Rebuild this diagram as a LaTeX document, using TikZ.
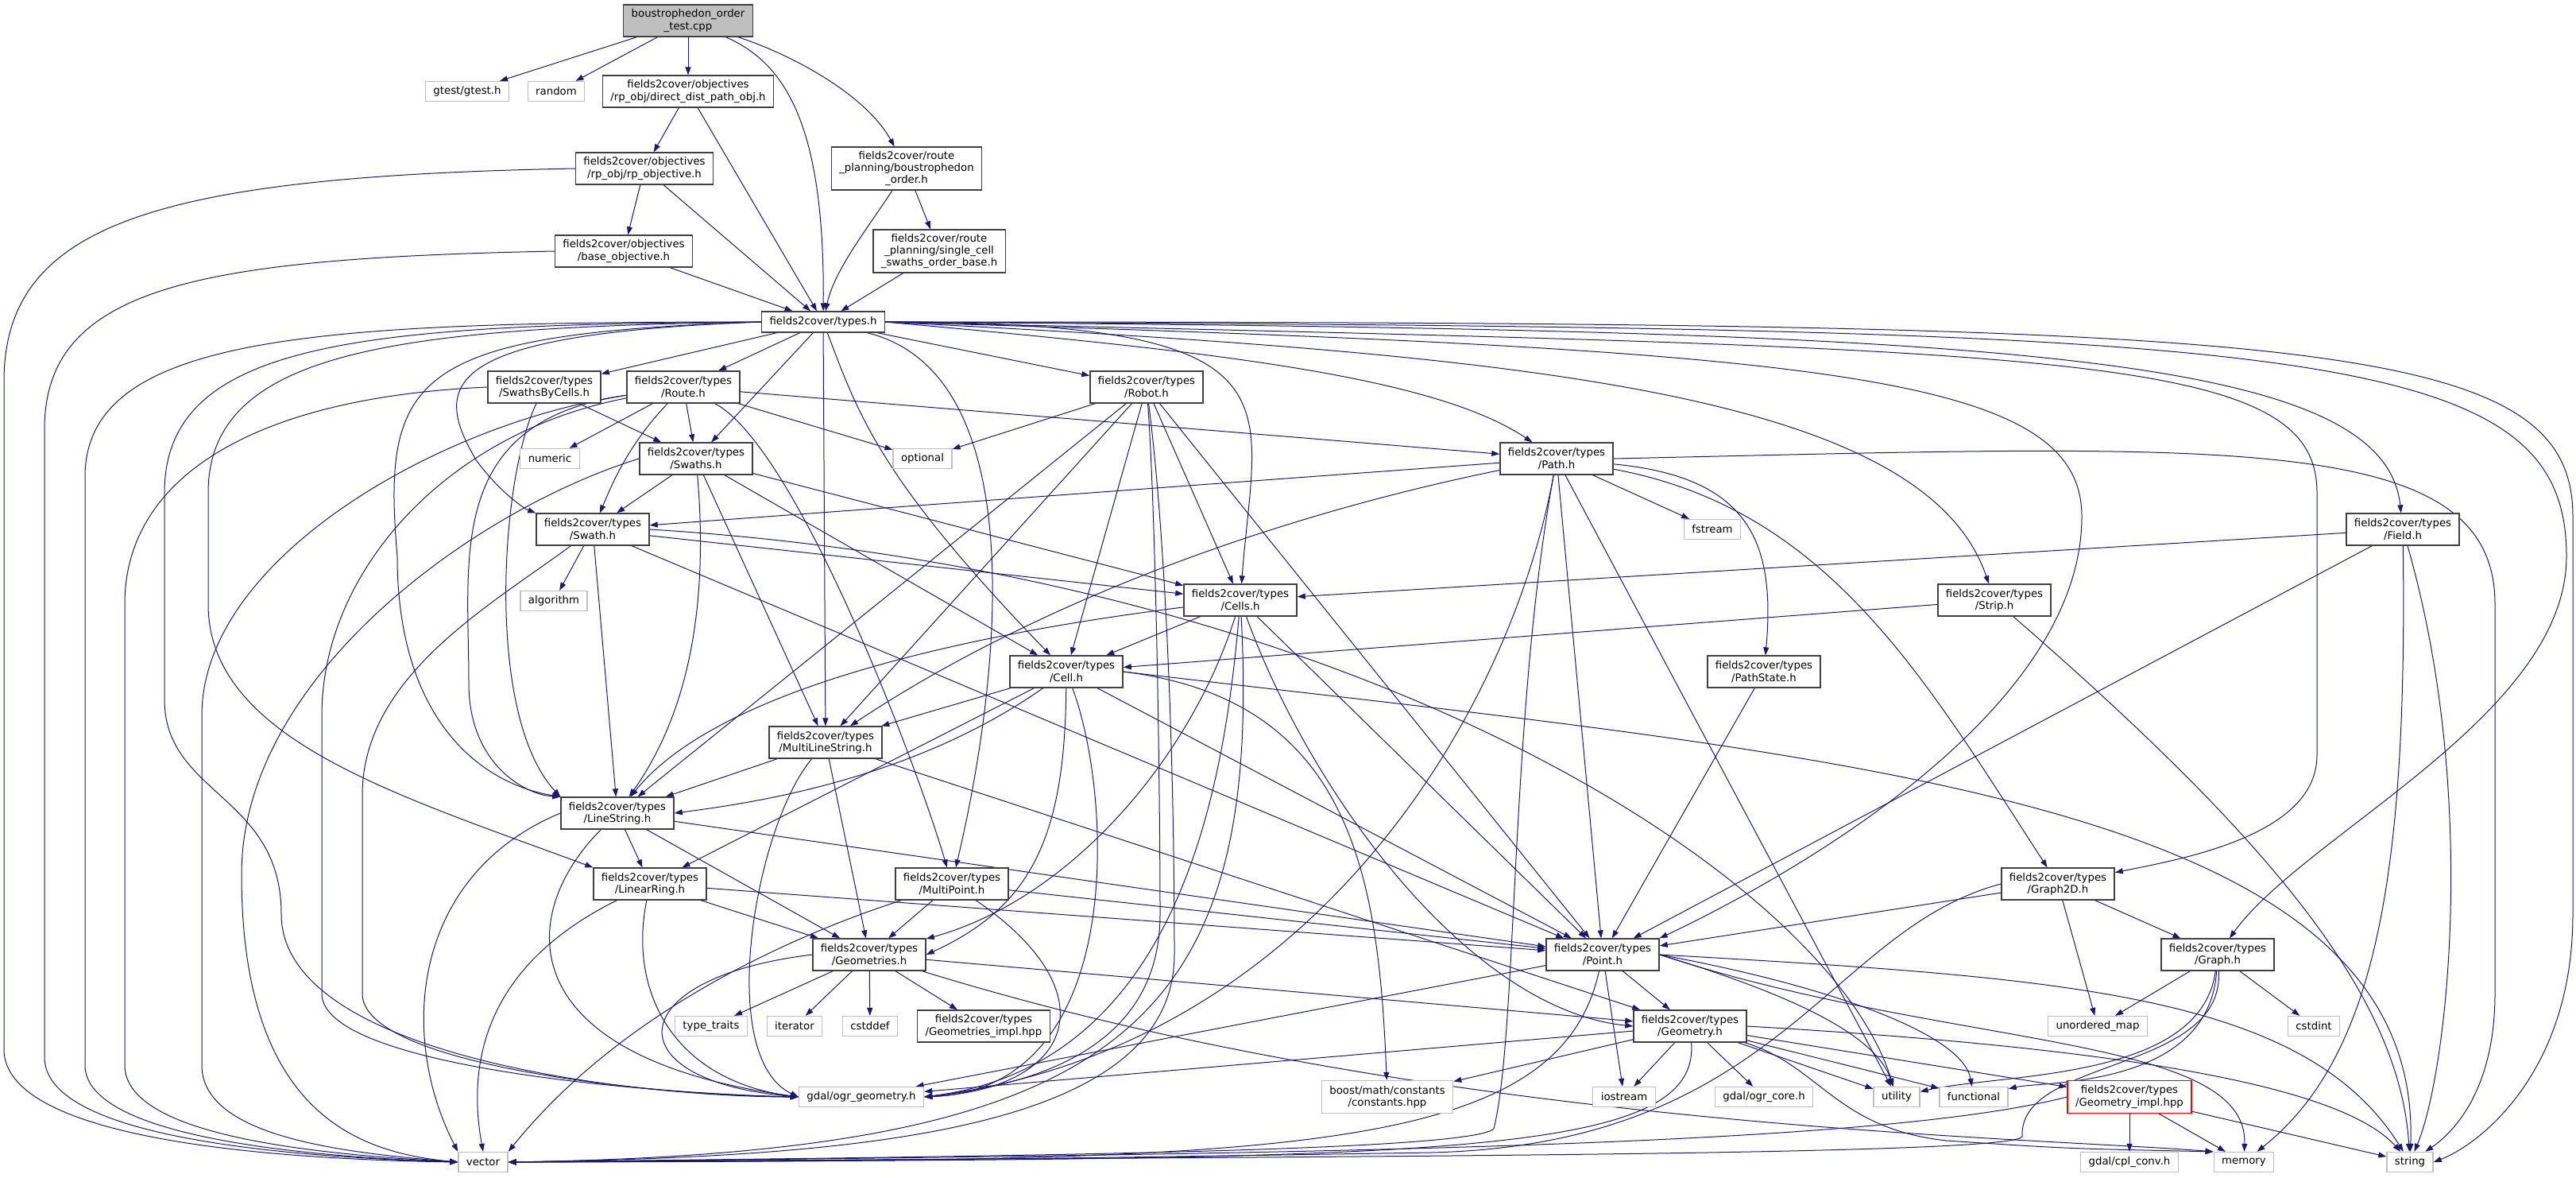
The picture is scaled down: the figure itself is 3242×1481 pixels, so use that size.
\documentclass[tikz,border=0pt]{standalone}
\usepackage{fontspec}
\setmainfont{DejaVu Sans}
\usepackage{xcolor}
\usepackage{tikz}
\usetikzlibrary{
  arrows.meta,
  backgrounds
}
\definecolor{edgeblue}{HTML}{191970}
\definecolor{rootfill}{HTML}{BFBFBF}

\begin{document}
\begin{tikzpicture}[
    x=1pt, y=-1pt,
    every node/.style={font=\fontsize{13.3}{15.2}\selectfont},
    hdr/.style={
      draw=black!75,
      line width=1.3pt,
      fill=white,
      align=center,
      inner xsep=10pt,
      inner ysep=0pt,
      minimum height=40pt
    },
    hdrthree/.style={hdr, minimum height=54pt},
    hdrone/.style={hdr, minimum height=26pt},
    sys/.style={hdr, draw=black!25, minimum height=25pt},
    root/.style={hdr, fill=rootfill},
    trunc/.style={hdr, draw=red},
    ar/.style={-{Triangle[length=10pt, width=7pt]}, draw=edgeblue, line width=1pt}
  ]
    \useasboundingbox (0,0) rectangle (3242,1481);

    % test file, objectives and route planning
    \node[root] (test) at (866,26) {boustrophedon\_order\\\_test.cpp};
    \node[sys] (gtest) at (588,115) {gtest/gtest.h};
    \node[sys] (random) at (700,115) {random};
    \node[hdr] (ddpo) at (866,115) {fields2cover/objectives\\/rp\_obj/direct\_dist\_path\_obj.h};
    \node[hdr] (rpobj) at (811,212) {fields2cover/objectives\\/rp\_obj/rp\_objective.h};
    \node[hdrthree] (bo) at (1141,212) {fields2cover/route\\\_planning/boustrophedon\\\_order.h};
    \node[hdr] (baseobj) at (785,316) {fields2cover/objectives\\/base\_objective.h};
    \node[hdrthree] (scso) at (1182,316) {fields2cover/route\\\_planning/single\_cell\\\_swaths\_order\_base.h};
    \node[hdrone] (types) at (1036,405) {fields2cover/types.h};

    % types headers
    \node[hdr] (sbc) at (685,487) {fields2cover/types\\/SwathsByCells.h};
    \node[hdr] (route) at (860,487) {fields2cover/types\\/Route.h};
    \node[hdr] (robot) at (1443,487) {fields2cover/types\\/Robot.h};
    \node[sys] (numeric) at (692,577) {numeric};
    \node[hdr] (swaths) at (876,577) {fields2cover/types\\/Swaths.h};
    \node[sys] (optional) at (1161,577) {optional};
    \node[hdr] (path) at (1959,577) {fields2cover/types\\/Path.h};
    \node[hdr] (swath) at (746,666) {fields2cover/types\\/Swath.h};
    \node[sys] (fstream) at (2155,666) {fstream};
    \node[hdr] (field) at (3024,666) {fields2cover/types\\/Field.h};
    \node[sys] (algorithm) at (697,756) {algorithm};
    \node[hdr] (cells) at (1561,755) {fields2cover/types\\/Cells.h};
    \node[hdr] (strip) at (2510,755) {fields2cover/types\\/Strip.h};
    \node[hdr] (cell) at (1342,845) {fields2cover/types\\/Cell.h};
    \node[hdr] (pathstate) at (2220,845) {fields2cover/types\\/PathState.h};
    \node[hdr] (mls) at (1039,934) {fields2cover/types\\/MultiLineString.h};
    \node[hdr] (ls) at (777,1023) {fields2cover/types\\/LineString.h};
    \node[hdr] (lr) at (818,1112) {fields2cover/types\\/LinearRing.h};
    \node[hdr] (mp) at (1198,1112) {fields2cover/types\\/MultiPoint.h};
    \node[hdr] (graph2d) at (2590,1112) {fields2cover/types\\/Graph2D.h};
    \node[hdr] (geoms) at (1094,1201) {fields2cover/types\\/Geometries.h};
    \node[hdr] (point) at (2017,1201) {fields2cover/types\\/Point.h};
    \node[hdr] (graph) at (2791,1201) {fields2cover/types\\/Graph.h};
    \node[sys] (typetraits) at (895,1291) {type\_traits};
    \node[sys] (iterator) at (1000,1291) {iterator};
    \node[sys] (cstddef) at (1095,1291) {cstddef};
    \node[hdr] (geomsimpl) at (1238,1291) {fields2cover/types\\/Geometries\_impl.hpp};
    \node[hdr] (geom) at (2127,1291) {fields2cover/types\\/Geometry.h};
    \node[sys] (unorderedmap) at (2640,1291) {unordered\_map};
    \node[sys] (cstdint) at (2912,1291) {cstdint};

    % bottom rows
    \node[sys] (ogrgeom) at (1084,1380) {gdal/ogr\_geometry.h};
    \node[sys, minimum height=41pt] (boost) at (1746,1380) {boost/math/constants\\/constants.hpp};
    \node[sys] (iostream) at (2044,1380) {iostream};
    \node[sys] (ogrcore) at (2220,1380) {gdal/ogr\_core.h};
    \node[sys] (utility) at (2387,1380) {utility};
    \node[sys] (functional) at (2484,1380) {functional};
    \node[trunc, minimum height=41pt] (geomimpl) at (2680,1380) {fields2cover/types\\/Geometry\_impl.hpp};
    \node[sys] (vector) at (608,1462) {vector};
    \node[sys] (cplconv) at (2680,1462) {gdal/cpl\_conv.h};
    \node[sys] (memory) at (2824,1462) {memory};
    \node[sys] (string) at (3033,1462) {string};

    \begin{scope}[on background layer]
    % from the test file
    \draw[ar] (test) -- (gtest);
    \draw[ar] (test) -- (random);
    \draw[ar] (test) -- (ddpo);
    \draw[ar] (test) .. controls (1000,70) and (1090,120) .. (bo);
    \draw[ar] (test) .. controls (990,80) and (1038,160) .. (types);

    % objectives and route planning
    \draw[ar] (ddpo) -- (rpobj);
    \draw[ar] (ddpo) -- (types);
    \draw[ar] (rpobj) -- (baseobj);
    \draw[ar] (rpobj) -- (types);
    \draw[ar] (rpobj.west) .. controls (200,222) and (5,280) .. (5,480) -- (5,1320) .. controls (5,1430) and (320,1458) .. (vector.west);
    \draw[ar] (baseobj) -- (types);
    \draw[ar] (baseobj.west) .. controls (250,325) and (56,360) .. (56,540) -- (56,1330) .. controls (56,1430) and (350,1455) .. (vector.west);
    \draw[ar] (bo) -- (scso);
    \draw[ar] (bo) .. controls (1090,290) and (1050,340) .. (types);
    \draw[ar] (scso) -- (types);

    % types.h
    \draw[ar] (types) -- (sbc);
    \draw[ar] (types) -- (route);
    \draw[ar] (types) -- (swaths);
    \draw[ar] (types) -- (robot);
    \draw[ar] (types) -- (mls);
    \draw[ar] (types) .. controls (1080,520) and (1105,600) .. (cell);
    \draw[ar] (types) .. controls (1300,470) and (1260,850) .. (mp);
    \draw[ar] (types.west) .. controls (560,420) and (540,480) .. (600,580) .. controls (630,620) and (660,640) .. (swath.north west);
    \draw[ar] (types.west) .. controls (520,420) and (480,470) .. (500,700) .. controls (500,900) and (600,985) .. (ls.north west);
    \draw[ar] (types.west) .. controls (500,412) and (262,440) .. (262,620) -- (262,760) .. controls (262,930) and (500,1000) .. (lr.north west);
    \draw[ar] (types.west) .. controls (450,408) and (207,430) .. (207,620) -- (207,880) .. controls (207,1000) and (354,1000) .. (354,1150) .. controls (354,1330) and (800,1380) .. (ogrgeom.west);
    \draw[ar] (types.west) .. controls (400,405) and (107,420) .. (107,600) -- (107,1340) .. controls (107,1430) and (380,1455) .. (vector.west);
    \draw[ar] (types.east) .. controls (1500,440) and (1800,470) .. (path);
    \draw[ar] (types.east) .. controls (1650,405) and (1580,500) .. (cells);
    \draw[ar] (types.east) .. controls (1900,445) and (2420,490) .. (strip);
    \draw[ar] (types.east) .. controls (2300,440) and (2620,470) .. (2620,650) .. controls (2620,880) and (2300,1080) .. (point.north east);
    \draw[ar] (types.east) .. controls (2600,440) and (2916,440) .. (2916,620) -- (2916,950) .. controls (2916,1050) and (2750,1080) .. (graph2d);
    \draw[ar] (types.east) .. controls (2500,415) and (3000,440) .. (field);
    \draw[ar] (types.east) .. controls (2900,412) and (3230,430) .. (3230,700) .. controls (3230,900) and (2900,1050) .. (graph);
    \draw[ar] (types.east) .. controls (2900,405) and (3238,420) .. (3238,650) -- (3238,1150) .. controls (3238,1350) and (3120,1440) .. (string.east);

    % SwathsByCells, Route, Swaths, Swath
    \draw[ar] (sbc) -- (swaths);
    \draw[ar] (sbc) .. controls (630,600) and (610,900) .. (ls.north west);
    \draw[ar] (sbc.west) .. controls (320,500) and (157,600) .. (157,760) -- (157,1340) .. controls (157,1430) and (400,1452) .. (vector.west);
    \draw[ar] (route) -- (numeric);
    \draw[ar] (route) -- (swaths);
    \draw[ar] (route) -- (optional);
    \draw[ar] (route) -- (path);
    \draw[ar] (route) .. controls (790,560) and (770,610) .. (swath);
    \draw[ar] (route) .. controls (1000,560) and (1150,950) .. (mp);
    \draw[ar] (route) .. controls (560,530) and (590,700) .. (590,860) .. controls (590,960) and (660,1000) .. (ls.north west);
    \draw[ar] (route) .. controls (560,530) and (254,700) .. (254,900) -- (254,1340) .. controls (254,1430) and (430,1450) .. (vector.west);
    \draw[ar] (route) .. controls (560,545) and (405,720) .. (405,900) -- (405,1250) .. controls (405,1340) and (800,1375) .. (ogrgeom.west);
    \draw[ar] (swaths) -- (swath);
    \draw[ar] (swaths) -- (cells);
    \draw[ar] (swaths) -- (cell);
    \draw[ar] (swaths) -- (mls);
    \draw[ar] (swaths) .. controls (895,800) and (850,920) .. (ls);
    \draw[ar] (swaths.west) .. controls (600,640) and (304,850) .. (304,1100) .. controls (304,1400) and (450,1450) .. (vector.west);
    \draw[ar] (swath) -- (algorithm);
    \draw[ar] (swath) -- (ls);
    \draw[ar] (swath) -- (cells);
    \draw[ar] (swath) -- (point);
    \draw[ar] (swath) .. controls (620,760) and (456,850) .. (456,1000) -- (456,1250) .. controls (456,1340) and (820,1378) .. (ogrgeom.west);
    \draw[ar] (swath.east) .. controls (1700,720) and (2300,1100) .. (utility);

    % Robot and Path
    \draw[ar] (robot) -- (optional);
    \draw[ar] (robot) -- (cells);
    \draw[ar] (robot) -- (cell);
    \draw[ar] (robot) -- (mls);
    \draw[ar] (robot) -- (ls);
    \draw[ar] (robot) -- (point);
    \draw[ar] (robot) .. controls (1455,650) and (1460,1000) .. (1460,1150) .. controls (1460,1320) and (1300,1365) .. (ogrgeom.east);
    \draw[ar] (robot) .. controls (1470,700) and (1478,1000) .. (1478,1200) .. controls (1478,1420) and (1100,1455) .. (vector.east);
    \draw[ar] (path) -- (swath);
    \draw[ar] (path) -- (point);
    \draw[ar] (path) -- (fstream);
    \draw[ar] (path) -- (utility);
    \draw[ar] (path) .. controls (1600,650) and (1300,760) .. (mls);
    \draw[ar] (path) .. controls (2200,600) and (2235,680) .. (pathstate);
    \draw[ar] (path) .. controls (2300,640) and (2420,850) .. (graph2d);
    \draw[ar] (path) .. controls (1900,900) and (1650,1320) .. (ogrgeom.east);
    \draw[ar] (path) .. controls (1900,900) and (1910,1300) .. (1880,1420) .. controls (1850,1450) and (1200,1455) .. (vector.east);
    \draw[ar] (path.east) .. controls (2800,560) and (3140,540) .. (3140,760) -- (3140,1250) .. controls (3140,1380) and (3080,1430) .. (string);

    % Cells and Cell
    \draw[ar] (cells) -- (cell);
    \draw[ar] (cells) -- (point);
    \draw[ar] (cells) .. controls (1200,800) and (900,870) .. (ls);
    \draw[ar] (cells) .. controls (1500,950) and (1350,1130) .. (geoms);
    \draw[ar] (cells) .. controls (1650,1000) and (1850,1270) .. (geom.west);
    \draw[ar] (cells) .. controls (1540,1000) and (1480,1340) .. (ogrgeom.east);
    \draw[ar] (cells) .. controls (1590,1300) and (1400,1450) .. (vector.east);
    \draw[ar] (cell) -- (mls);
    \draw[ar] (cell) -- (lr);
    \draw[ar] (cell) -- (point);
    \draw[ar] (cell.east) .. controls (2300,950) and (3050,1000) .. (string);
    \draw[ar] (cell) .. controls (1150,980) and (950,1010) .. (ls.east);
    \draw[ar] (cell) .. controls (1340,1050) and (1300,1140) .. (geoms.east);
    \draw[ar] (cell) .. controls (1400,1000) and (1420,1370) .. (ogrgeom.east);
    \draw[ar] (cell.east) .. controls (1700,880) and (1735,1100) .. (boost);

    % line strings, rings and points
    \draw[ar] (mls) -- (ls);
    \draw[ar] (mls) -- (geoms);
    \draw[ar] (mls) -- (geom);
    \draw[ar] (mls) .. controls (950,1040) and (900,1330) .. (ogrgeom.west);
    \draw[ar] (ls) -- (lr);
    \draw[ar] (ls) -- (point);
    \draw[ar] (ls) -- (geoms);
    \draw[ar] (ls.west) .. controls (520,1100) and (500,1300) .. (vector.north west);
    \draw[ar] (ls) .. controls (650,1150) and (640,1330) .. (ogrgeom.west);
    \draw[ar] (lr) -- (point);
    \draw[ar] (lr) -- (geoms);
    \draw[ar] (lr) .. controls (600,1220) and (590,1350) .. (vector.north);
    \draw[ar] (lr) .. controls (790,1250) and (850,1360) .. (ogrgeom.west);
    \draw[ar] (mp) -- (point);
    \draw[ar] (mp) -- (geoms);
    \draw[ar] (mp) .. controls (1400,1250) and (1350,1370) .. (ogrgeom.east);
    \draw[ar] (mp) .. controls (1050,1160) and (800,1250) .. (vector.north east);

    % Geometries
    \draw[ar] (geoms) -- (typetraits);
    \draw[ar] (geoms) -- (iterator);
    \draw[ar] (geoms) -- (cstddef);
    \draw[ar] (geoms) -- (geomsimpl);
    \draw[ar] (geoms) -- (geom);
    \draw[ar] (geoms.west) .. controls (780,1230) and (770,1360) .. (ogrgeom.west);
    \draw[ar] (geoms) .. controls (1800,1420) and (2550,1430) .. (memory.north west);

    % Point and Geometry
    \draw[ar] (point) -- (geom);
    \draw[ar] (point) -- (iostream);
    \draw[ar] (point) -- (ogrgeom);
    \draw[ar] (point) .. controls (1960,1460) and (1600,1460) .. (vector.east);
    \draw[ar] (point.east) .. controls (2250,1250) and (2360,1300) .. (utility);
    \draw[ar] (point.east) .. controls (2300,1240) and (2470,1300) .. (functional);
    \draw[ar] (point.east) .. controls (2450,1320) and (2830,1300) .. (memory);
    \draw[ar] (point.east) .. controls (2600,1230) and (2900,1250) .. (string);
    \draw[ar] (geom) -- (ogrgeom);
    \draw[ar] (geom) -- (boost);
    \draw[ar] (geom) -- (iostream);
    \draw[ar] (geom) -- (ogrcore);
    \draw[ar] (geom) -- (utility);
    \draw[ar] (geom) -- (functional);
    \draw[ar] (geom) -- (geomimpl);
    \draw[ar] (geom) .. controls (2290,1340) and (2310,1420) .. (2450,1435) .. controls (2600,1445) .. (memory.north west);
    \draw[ar] (geom.east) .. controls (2700,1320) and (2950,1370) .. (string);
    \draw[ar] (geom) .. controls (2140,1460) and (1800,1458) .. (vector.east);
    \draw[ar] (geomimpl) -- (cplconv);
    \draw[ar] (geomimpl) -- (memory);
    \draw[ar] (geomimpl) -- (string);
    \draw[ar] (geomimpl.west) .. controls (2350,1445) and (1600,1452) .. (vector.east);

    % right side
    \draw[ar] (pathstate) -- (point);
    \draw[ar] (strip) -- (cell);
    \draw[ar] (strip) .. controls (2850,1050) and (3020,1250) .. (string);
    \draw[ar] (field) -- (cells);
    \draw[ar] (field) -- (point);
    \draw[ar] (field) .. controls (3030,1100) and (2990,1330) .. (memory);
    \draw[ar] (field) .. controls (3120,1000) and (3080,1350) .. (string);
    \draw[ar] (graph2d) -- (point);
    \draw[ar] (graph2d) -- (unorderedmap);
    \draw[ar] (graph2d) -- (graph);
    \draw[ar] (graph2d.west) .. controls (2300,1170) and (2240,1440) .. (1800,1450) .. controls (1300,1458) .. (vector.east);
    \draw[ar] (graph) -- (unorderedmap);
    \draw[ar] (graph) -- (cstdint);
    \draw[ar] (graph) .. controls (2770,1360) and (2520,1350) .. (utility);
    \draw[ar] (graph) .. controls (2780,1370) and (2570,1360) .. (functional);
    \draw[ar] (graph) .. controls (2800,1350) and (2540,1330) .. (2545,1430) .. controls (2530,1455) and (1600,1455) .. (vector.east);
    \end{scope}

  \end{tikzpicture}
\end{document}
